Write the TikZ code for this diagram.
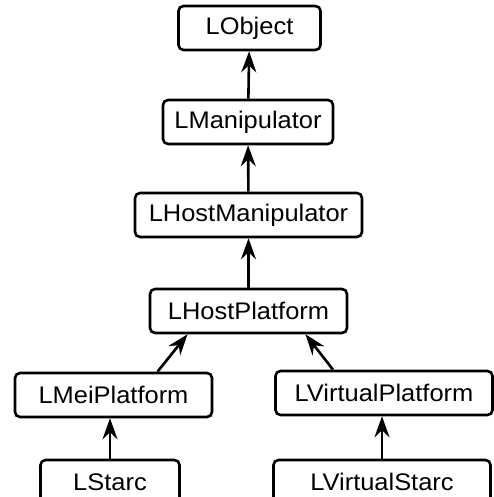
\documentclass[tikz,border=0pt]{standalone}
\usepackage{fontspec}
\newfontfamily\classfont{Liberation Sans}[FakeStretch=1.06]
\usetikzlibrary{arrows.meta}

\begin{document}
\begin{tikzpicture}[x=1pt, y=-1pt,
    cls/.style={draw=black, line width=2.6pt, rounded corners=5pt,
        minimum height=44pt, inner sep=0pt,
        font=\classfont\fontsize{24}{28}\selectfont},
    inh/.style={line width=2.6pt, -{Stealth[length=21pt, width=15pt, inset=7pt]}}]
    \useasboundingbox (0,0) rectangle (494,497);
    \clip (0,0) rectangle (494,497);

    % class hierarchy, top to bottom
    \node[cls, minimum width=142pt] (obj)   at (249.5,28)  {LObject};
    \node[cls, minimum width=170pt] (manip) at (248,122)   {LManipulator};
    \node[cls, minimum width=227pt] (hman)  at (248.5,215) {LHostManipulator};
    \node[cls, minimum width=197pt] (hplat) at (248.5,311) {LHostPlatform};
    \node[cls, minimum width=197pt] (mei)   at (113.5,395) {LMeiPlatform};
    \node[cls, minimum width=217pt] (vplat) at (384,393)   {LVirtualPlatform};
    \node[cls, minimum width=139pt] (starc) at (110,482)   {LStarc};
    \node[cls, minimum width=217pt] (vstarc) at (382,482)  {LVirtualStarc};

    \draw[inh] (manip) -- (obj);
    \draw[inh] (hman) -- (manip);
    \draw[inh] (hplat) -- (hman);
    \draw[inh] ([xshift=44pt]mei.north) -- ([xshift=-61pt]hplat.south);
    \draw[inh] ([xshift=-51pt]vplat.north) -- ([xshift=57pt]hplat.south);
    \draw[inh] (starc.north) -- (starc.north |- mei.south);
    \draw[inh] (vstarc.north) -- (vstarc.north |- vplat.south);
\end{tikzpicture}
\end{document}
